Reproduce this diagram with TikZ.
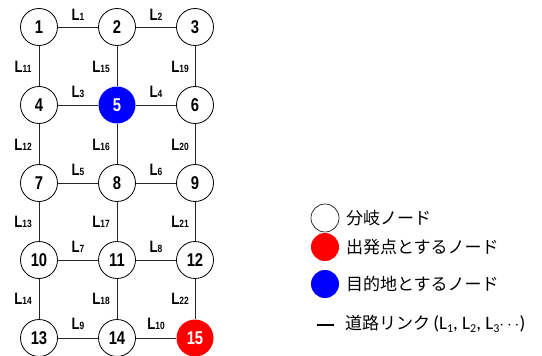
\documentclass[tikz,border=0pt]{standalone}
\usepackage{fontspec}
\newfontfamily\cond[FakeStretch=0.8]{Liberation Sans}
\newfontfamily\jp{Noto Sans CJK JP}
\newfontfamily\carl{Carlito}
\newcommand{\lab}[1]{{\cond\bfseries\fontsize{16.5}{16}\selectfont L{\fontsize{10.5}{10}\selectfont #1}}}
\newcommand{\lsub}[1]{L\raisebox{-2.5pt}{\fontsize{12}{12}\selectfont #1}}
\begin{document}
\begin{tikzpicture}[x=1pt,y=-1pt,
  vtx/.style={circle,draw=black,line width=0.8pt,fill=white,minimum size=37pt,inner sep=0pt,
    font=\cond\bfseries\fontsize{18.5}{18}\selectfont},
  red/.style={vtx,draw=none,fill=red,text=white},
  blue/.style={vtx,draw=none,fill=blue,text=white},
  link/.style={draw=black!85,line width=0.8pt},
  lgd/.style={anchor=west,font=\jp\fontsize{17}{17}\selectfont,inner sep=0pt}]
\useasboundingbox (0,0) rectangle (542,356);
% nodes
\node[vtx] (n1) at (39,27) {1};
\node[vtx] (n2) at (117,27) {2};
\node[vtx] (n3) at (195,27) {3};
\node[vtx] (n4) at (39,105) {4};
\node[blue] (n5) at (117,105) {5};
\node[vtx] (n6) at (195,105) {6};
\node[vtx] (n7) at (39,183) {7};
\node[vtx] (n8) at (117,183) {8};
\node[vtx] (n9) at (195,183) {9};
\node[vtx] (n10) at (39,260) {10};
\node[vtx] (n11) at (117,260) {11};
\node[vtx] (n12) at (195,260) {12};
\node[vtx] (n13) at (39,338) {13};
\node[vtx] (n14) at (117,338) {14};
\node[red] (n15) at (195,338) {15};
% links
\draw[link] (n1)--(n2) (n2)--(n3) (n4)--(n5) (n5)--(n6) (n7)--(n8) (n8)--(n9)
  (n10)--(n11) (n11)--(n12) (n13)--(n14) (n14)--(n15)
  (n1)--(n4) (n4)--(n7) (n7)--(n10) (n10)--(n13)
  (n2)--(n5) (n5)--(n8) (n8)--(n11) (n11)--(n14)
  (n3)--(n6) (n6)--(n9) (n9)--(n12) (n12)--(n15);
% link labels
\node (l1) at (78,15) {\lab{1}};
\node (l2) at (156,15) {\lab{2}};
\node (l3) at (78,92) {\lab{3}};
\node (l4) at (156,92) {\lab{4}};
\node (l5) at (78,170) {\lab{5}};
\node (l6) at (156,170) {\lab{6}};
\node (l7) at (78,247) {\lab{7}};
\node (l8) at (156,247) {\lab{8}};
\node (l9) at (78,324) {\lab{9}};
\node (l10) at (156,324) {\lab{10}};
\node (l11) at (23,67) {\lab{11}};
\node (l12) at (23,145) {\lab{12}};
\node (l13) at (23,222) {\lab{13}};
\node (l14) at (23,299) {\lab{14}};
\node (l15) at (101,67) {\lab{15}};
\node (l16) at (101,145) {\lab{16}};
\node (l17) at (101,222) {\lab{17}};
\node (l18) at (101,299) {\lab{18}};
\node (l19) at (180,67) {\lab{19}};
\node (l20) at (180,145) {\lab{20}};
\node (l21) at (180,222) {\lab{21}};
\node (l22) at (180,299) {\lab{22}};
% legend
\node[circle,draw=black,line width=0.6pt,minimum size=28pt,inner sep=0pt] (g1) at (325,218) {};
\node[circle,fill=red,minimum size=28pt,inner sep=0pt] (g2) at (325,247) {};
\node[circle,fill=blue,minimum size=28pt,inner sep=0pt] (g3) at (325,284) {};
\coordinate (ga) at (317,325);
\coordinate (gb) at (334,325);
\draw[line width=1.1pt] (ga)--(gb);
\node[lgd] (t1) at (346,218) {分岐ノード};
\node[lgd] (t2) at (346,247) {出発点とするノード};
\node[lgd] (t3) at (346,284) {目的地とするノード};
\node[lgd] (t4) at (345,324) {道路リンク{\carl\fontsize{19}{19}\selectfont\,(\lsub{1}, \lsub{2}, \lsub{3}$\cdots$)}};
\end{tikzpicture}
\end{document}
